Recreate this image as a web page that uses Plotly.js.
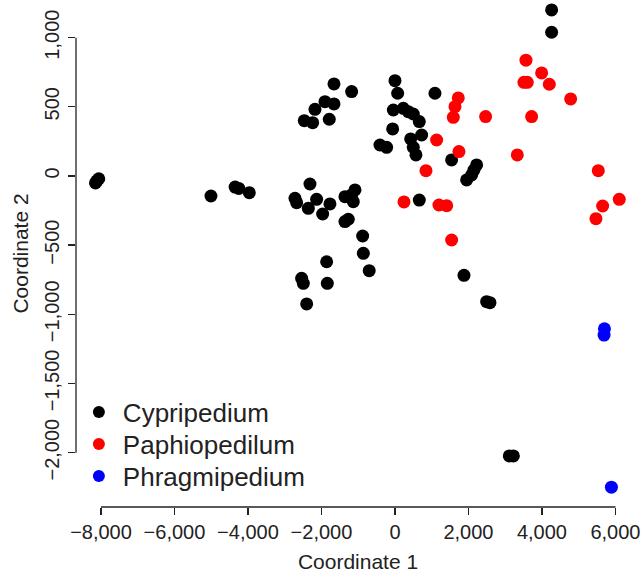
<!DOCTYPE html>
<html>
<head>
<meta charset="utf-8">
<script src="https://cdn.plot.ly/plotly-3.0.1.min.js"></script>
<style>
  html, body { margin: 0; padding: 0; background: #fff; }
  #chart { width: 644px; height: 573px; }
</style>
</head>
<body>
<div id="chart"></div>
<script>
// ---- Data ----
const groupNames = ["Cypripedium", "Paphiopedilum", "Phragmipedium"];
const groupColors = ["#000000", "#ff0000", "#0000ff"];

const cypX = [-8060, -8110, -8150, -5007, -4350, -4250, -3964,
  -2721, -2676, -2313, -2358, -2132, -1968, -1769,
  -1361, -1088, -1134, -1180, -1361, -1270, -880, -861, -701,
  -1859, -2540, -2494, -1841, -2403,
  -1660, -1179, -1905, -1660, -2177, -2467, -2240, -1788,
  0, 73, -45, 227, 363, 499, 662, 1088, -63, -408, -227,
  427, 726, 499, 571, 1542, 662,
  1950, 2086, 2222, 2150, 1878, 2494, 2585,
  4263, 4263, 3111, 3222];
const cypY = [-20, -35, -50, -145, -80, -90, -121,
  -161, -193, -58, -234, -169, -275, -202,
  -150, -101, -186, -137, -330, -313, -434, -559, -685,
  -620, -740, -776, -776, -925,
  665, 610, 537, 521, 482, 400, 385, 410,
  689, 598, 477, 489, 465, 448, 393, 598, 340, 224, 207,
  268, 296, 207, 152, 116, -174,
  -29, 7, 80, 43, -718, -909, -916,
  1200, 1039, -2024, -2024];

const paphX = [3565, 3991, 3510, 3600, 4200, 4781, 1723, 1633, 1587,
  2467, 3719, 1134, 1741, 3329, 844, 5533, 6104, 5651, 5469,
  245, 1197, 1407, 1542];
const paphY = [837, 745, 677, 677, 663, 557, 564, 501, 424,
  429, 429, 260, 176, 152, 38, 38, -169, -217, -309,
  -188, -210, -215, -463];

const phraX = [5700, 5690, 5890];
const phraY = [-1105, -1150, -2250];

const xTickVals = [-8000, -6000, -4000, -2000, 0, 2000, 4000, 6000];
const xTickText = ["\u22128,000", "\u22126,000", "\u22124,000", "\u22122,000", "0", "2,000", "4,000", "6,000"];
const yTickVals = [1000, 500, 0, -500, -1000, -1500, -2000];
const yTickText = ["1,000", "500", "0", "\u2212500", "\u22121,000", "\u22121,500", "\u22122,000"];

const xTitle = "Coordinate 1";
const yTitle = "Coordinate 2";

// ---- Build traces ----
const xs = [cypX, paphX, phraX];
const ys = [cypY, paphY, phraY];
const legendIds = ["legend", "legend2", "legend3"];
const traces = groupNames.map((name, i) => ({
  type: "scatter",
  mode: "markers",
  name: name,
  legend: legendIds[i],
  x: xs[i],
  y: ys[i],
  marker: { color: groupColors[i], size: 13, line: { width: 0 } },
  hoverinfo: "x+y+name"
}));

const FONT = "Liberation Sans, Arial, Helvetica, sans-serif";
const AXC = "#222222";
const PLOT_H = 507;
const legendRowsPx = [412, 444, 476];

function legendAt(py) {
  return {
    x: -0.002, y: 1 - py / PLOT_H, xanchor: "left", yanchor: "middle",
    bgcolor: "rgba(0,0,0,0)", borderwidth: 0,
    font: { family: FONT, size: 26, color: AXC },
    itemsizing: "constant", itemwidth: 38
  };
}

const layout = {
  width: 644,
  height: 573,
  margin: { l: 76, r: 4, t: 0, b: 66 },
  paper_bgcolor: "#ffffff",
  plot_bgcolor: "#ffffff",
  font: { family: FONT, color: AXC, size: 20 },
  showlegend: true,
  legend: legendAt(legendRowsPx[0]),
  legend2: legendAt(legendRowsPx[1]),
  legend3: legendAt(legendRowsPx[2]),
  xaxis: {
    range: [-8680, 6668],
    showgrid: false, zeroline: false, showline: false,
    tickmode: "array", tickvals: xTickVals, ticktext: xTickText,
    ticks: "outside", ticklen: 7, tickwidth: 1.3, tickcolor: AXC,
    tickfont: { family: FONT, size: 20, color: AXC },
    ticklabelstandoff: 0,
    title: { text: xTitle, font: { family: FONT, size: 21, color: AXC }, standoff: 14 },
    automargin: false
  },
  yaxis: {
    range: [-2393, 1272],
    showgrid: false, zeroline: false, showline: false,
    tickmode: "array", tickvals: yTickVals, ticktext: yTickText,
    ticks: "outside", ticklen: 7, tickwidth: 1.3, tickcolor: AXC,
    tickangle: -90,
    tickfont: { family: FONT, size: 20, color: AXC },
    ticklabelstandoff: 1,
    title: { text: yTitle, font: { family: FONT, size: 21, color: AXC }, standoff: 6 },
    automargin: false
  },
  shapes: [
    { type: "line", xref: "x", yref: "paper",
      x0: xTickVals[0], x1: xTickVals[xTickVals.length - 1], y0: 0, y1: 0,
      line: { color: AXC, width: 1.3 } },
    { type: "line", xref: "paper", yref: "y",
      x0: 0, x1: 0, y0: yTickVals[0], y1: yTickVals[yTickVals.length - 1],
      line: { color: AXC, width: 1.3 } }
  ]
};

Plotly.newPlot("chart", traces, layout, { staticPlot: true, displayModeBar: false });
</script>
</body>
</html>
